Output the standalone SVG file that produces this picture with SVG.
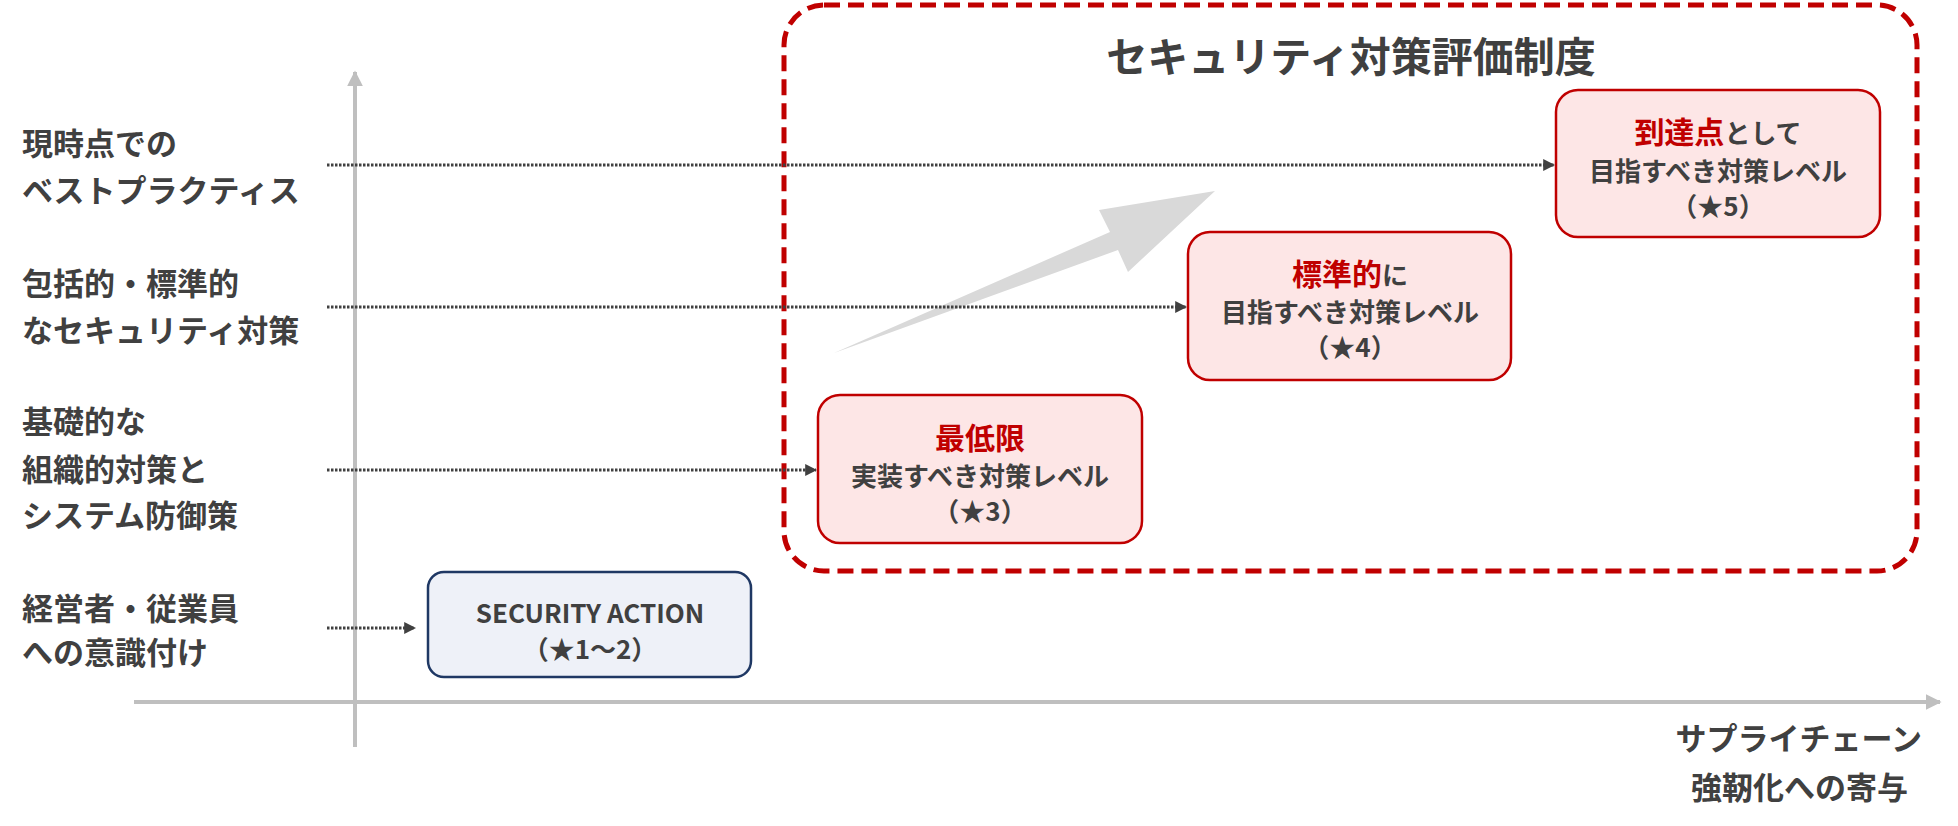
<svg xmlns="http://www.w3.org/2000/svg" width="1958" height="826" viewBox="0 0 1958 826">
<defs>
<style>
text{font-family:"Noto Sans CJK JP","Noto Sans",sans-serif;font-weight:bold;fill:#404040}
.lbl{font-size:31px}
.bx{font-size:26px;text-anchor:middle}
.red{fill:#c00000;font-size:30px}
.axis{stroke:#bfbfbf;stroke-width:4;fill:none}
.dot{stroke:#404040;stroke-width:3;stroke-dasharray:2.5 1.5;fill:none;marker-end:url(#ah)}
.pink{fill:#fde6e6;stroke:#c00000;stroke-width:2.5}
</style>
<marker id="ah" viewBox="0 0 10 10" refX="9" refY="5" markerWidth="4" markerHeight="4" orient="auto"><path d="M0,0L10,5L0,10z" fill="#404040"/></marker>
<marker id="ax" viewBox="0 0 10 10" refX="9" refY="5" markerWidth="4" markerHeight="4" orient="auto"><path d="M0,0L10,5L0,10z" fill="#bfbfbf"/></marker>
</defs>
<g id="axes">
<line class="axis" x1="355" y1="747" x2="355" y2="72" marker-end="url(#ax)"/>
<line class="axis" x1="134" y1="702" x2="1940" y2="702" marker-end="url(#ax)"/>
</g>
<g id="frame">
<rect x="784" y="5" width="1133" height="566" rx="40" fill="none" stroke="#c00000" stroke-width="5" stroke-dasharray="16 8"/>
<text x="1351" y="72" text-anchor="middle" font-size="41">セキュリティ対策評価制度</text>
</g>
<g id="bigarrow"><polygon points="834,353 1110,232 1099,210 1215,191 1128,272 1118,250" fill="#d9d9d9"/></g>
<g id="connectors">
<line class="dot" x1="327" y1="165" x2="1554" y2="165"/>
<line class="dot" x1="327" y1="307" x2="1186" y2="307"/>
<line class="dot" x1="327" y1="470" x2="816" y2="470"/>
<line class="dot" x1="327" y1="628" x2="415" y2="628"/>
</g>
<g id="labels">
<text class="lbl" x="22" y="155">現時点での</text>
<text class="lbl" x="22" y="202">ベストプラクティス</text>
<text class="lbl" x="22" y="295">包括的・標準的</text>
<text class="lbl" x="22" y="342">なセキュリティ対策</text>
<text class="lbl" x="22" y="433">基礎的な</text>
<text class="lbl" x="22" y="481">組織的対策と</text>
<text class="lbl" x="22" y="527">システム防御策</text>
<text class="lbl" x="22" y="620">経営者・従業員</text>
<text class="lbl" x="22" y="664">への意識付け</text>
<text class="lbl" x="1922" y="750" text-anchor="end">サプライチェーン</text>
<text class="lbl" x="1908" y="799" text-anchor="end">強靭化への寄与</text>
</g>
<g id="star5">
<rect class="pink" x="1556" y="90" width="324" height="147" rx="22"/>
<text class="bx" x="1718" y="143"><tspan class="red">到達点</tspan>として</text>
<text class="bx" x="1718" y="181">目指すべき対策レベル</text>
<text class="bx" x="1718" y="216">（★5）</text>
</g>
<g id="star4">
<rect class="pink" x="1188" y="232" width="323" height="148" rx="22"/>
<text class="bx" x="1350" y="285"><tspan class="red">標準的</tspan>に</text>
<text class="bx" x="1350" y="322">目指すべき対策レベル</text>
<text class="bx" x="1350" y="357">（★4）</text>
</g>
<g id="star3">
<rect class="pink" x="818" y="395" width="324" height="148" rx="22"/>
<text class="bx" x="980" y="449"><tspan class="red">最低限</tspan></text>
<text class="bx" x="980" y="486">実装すべき対策レベル</text>
<text class="bx" x="980" y="521">（★3）</text>
</g>
<g id="sa">
<rect x="428" y="572" width="323" height="105" rx="16" fill="#eef1f8" stroke="#1f3864" stroke-width="2.5"/>
<text class="bx" x="590" y="623" font-size="28" font-weight="600">SECURITY ACTION</text>
<text class="bx" x="590" y="659">（★1～2）</text>
</g>
</svg>
